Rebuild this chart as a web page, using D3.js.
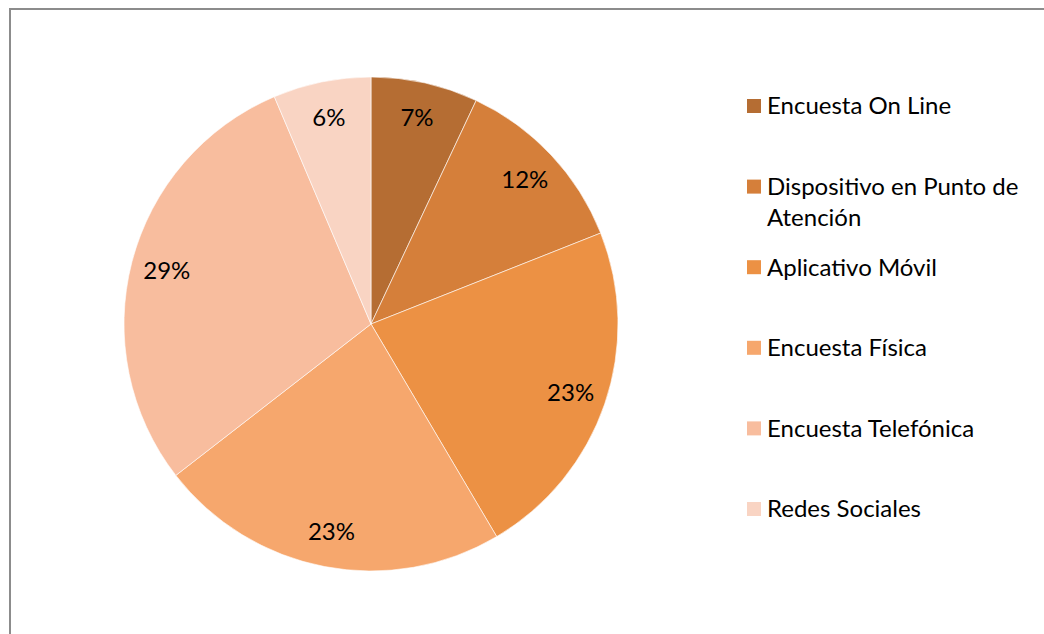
<!DOCTYPE html>
<html>
<head>
<meta charset="utf-8">
<script src="https://cdn.jsdelivr.net/npm/d3@7"></script>
<style>
  body { margin: 0; background: #fff; }
  svg { display: block; font-family: Lato, "Open Sans", sans-serif; }
</style>
</head>
<body>
<svg width="1044" height="634"></svg>
<script>
// datos del gráfico
const categories = ["Encuesta On Line", "Dispositivo en Punto de Atención", "Aplicativo Móvil", "Encuesta Física", "Encuesta Telefónica", "Redes Sociales"];
const values = [7.0, 12.0, 22.5, 23.0, 29.1, 6.4];
const pctLabels = ["7%", "12%", "23%", "23%", "29%", "6%"];
const colors = ["#b56d33", "#d57f3a", "#ec9144", "#f6a76d", "#f8bd9e", "#f9d4c3"];
// líneas del texto de la leyenda
const legendLines = [["Encuesta On Line"], ["Dispositivo en Punto de", "Atención"], ["Aplicativo Móvil"], ["Encuesta Física"], ["Encuesta Telefónica"], ["Redes Sociales"]];

const svg = d3.select("svg");

// marco (solo arriba e izquierda se ven)
svg.append("path")
  .attr("d", "M10,640 L10,9 L1050,9")
  .attr("fill", "none")
  .attr("stroke", "#8c8c8c")
  .attr("stroke-width", 2);

const cx = 371, cy = 324, radius = 247;
const g = svg.append("g").attr("transform", `translate(${cx},${cy})`);

const pie = d3.pie().sort(null).value(d => d);
const arcs = pie(values);
const arc = d3.arc().innerRadius(0).outerRadius(radius);
const labelArc = d3.arc().innerRadius(211).outerRadius(211);

g.selectAll("path.slice").data(arcs).enter().append("path")
  .attr("class", "slice")
  .attr("d", arc)
  .attr("fill", (d, i) => colors[i])
  .attr("stroke", "#fff")
  .attr("stroke-width", 0.6);

g.selectAll("text.pct").data(arcs).enter().append("text")
  .attr("class", "pct")
  .attr("transform", d => `translate(${labelArc.centroid(d)})`)
  .attr("text-anchor", "middle")
  .attr("dy", "0.35em")
  .attr("font-size", 24)
  .attr("fill", "#000")
  .text((d, i) => pctLabels[i]);

// leyenda
const rowY = d3.scalePoint().domain(d3.range(categories.length)).range([106, 509]);
const legend = svg.append("g");
const item = legend.selectAll("g.item").data(categories).enter().append("g")
  .attr("class", "item")
  .attr("transform", (d, i) => `translate(747, ${rowY(i)})`);

item.append("rect")
  .attr("x", 0).attr("y", -7)
  .attr("width", 14).attr("height", 14)
  .attr("fill", (d, i) => colors[i]);

item.each(function(d, i) {
  const t = d3.select(this).append("text")
    .attr("x", 20).attr("y", 0)
    .attr("font-size", 24)
    .attr("fill", "#000");
  legendLines[i].forEach((line, j) => {
    t.append("tspan").attr("x", 20).attr("dy", j === 0 ? "0.35em" : 31).text(line);
  });
});
</script>
</body>
</html>
